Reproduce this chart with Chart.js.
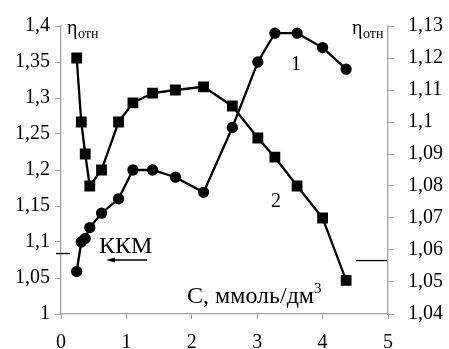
<!doctype html>
<html lang="ru">
  <head>
    <meta charset="utf-8">
    <script src="https://cdn.jsdelivr.net/npm/chart.js"></script>
    <style>
      html, body { margin: 0; padding: 0; background: #fff; }
      #wrap { width: 449px; height: 349px; }
    </style>
  </head>
  <body>
    <div id="wrap"><canvas id="myChart"></canvas></div>
    <script>
      // concentration, mmol/dm3 (shared by both curves)
      const conc = [0.24, 0.31, 0.37, 0.44, 0.62, 0.88, 1.1, 1.4, 1.75, 2.18, 2.62, 3.01, 3.27, 3.61, 4.0, 4.36];
      // curve 1 (circles, left axis)
      const eta1 = [1.059, 1.10, 1.105, 1.12, 1.14, 1.16, 1.20, 1.20, 1.19, 1.169, 1.259, 1.35, 1.39, 1.39, 1.37, 1.34];
      // curve 2 (squares, right axis)
      const eta2 = [1.12, 1.10, 1.09, 1.08, 1.085, 1.10, 1.106, 1.109, 1.11, 1.111, 1.105, 1.095, 1.089, 1.08, 1.07, 1.0505];
      // cmc markers on each axis
      const kkmLeft = 1.084;
      const kkmRight = 1.0567;

      const serif = '"Liberation Serif", "DejaVu Serif", serif';
      const axisGray = '#a0a0a0';

      function fmt(v) {
        return Number(v.toFixed(2)).toString().replace('.', ',');
      }

      function toPoints(xs, ys) {
        const pts = [];
        for (let i = 0; i < xs.length; i++) {
          pts.push({ x: xs[i], y: ys[i] });
        }
        return pts;
      }

      const labelsPlugin = {
        id: 'labels',
        afterDatasetsDraw(chart) {
          const ctx = chart.ctx;
          const y = chart.scales.y;
          const y2 = chart.scales.y2;
          ctx.save();
          ctx.fillStyle = '#000';
          ctx.strokeStyle = '#000';
          ctx.textBaseline = 'alphabetic';

          // eta_rel titles
          function eta(px) {
            ctx.font = '20px ' + serif;
            ctx.textAlign = 'left';
            ctx.fillText('η', px, 34);
            ctx.font = '14px ' + serif;
            ctx.fillText('отн', px + 11, 38);
          }
          eta(67);
          eta(352);

          // curve numbers
          ctx.font = '20px ' + serif;
          ctx.textAlign = 'center';
          ctx.fillText('1', 296, 70);
          ctx.fillText('2', 276, 207);

          // KKM label + arrow
          ctx.font = '24px ' + serif;
          ctx.textAlign = 'left';
          ctx.fillText('ККМ', 99, 253);
          ctx.lineWidth = 1.3;
          ctx.beginPath();
          ctx.moveTo(147, 260);
          ctx.lineTo(110, 260);
          ctx.stroke();
          ctx.beginPath();
          ctx.moveTo(106, 260);
          ctx.lineTo(115, 257.5);
          ctx.lineTo(115, 262.5);
          ctx.closePath();
          ctx.fill();

          // KKM marks at the axes
          const yl = y.getPixelForValue(kkmLeft);
          ctx.beginPath();
          ctx.moveTo(56, yl);
          ctx.lineTo(70, yl);
          ctx.stroke();
          const yr = y2.getPixelForValue(kkmRight);
          ctx.beginPath();
          ctx.moveTo(356, yr);
          ctx.lineTo(387, yr);
          ctx.stroke();

          // x axis title
          ctx.font = '24px ' + serif;
          ctx.textAlign = 'left';
          const t = 'C, ммоль/дм';
          ctx.fillText(t, 187, 303);
          const w = ctx.measureText(t).width;
          ctx.font = '15px ' + serif;
          ctx.fillText('3', 187 + w, 293);
          ctx.restore();
        }
      };

      const canvas = document.getElementById('myChart');
      const chart = new Chart(canvas, {
        type: 'line',
        data: {
          datasets: [
            {
              label: '1',
              data: toPoints(conc, eta1),
              yAxisID: 'y',
              borderColor: '#000',
              backgroundColor: '#000',
              borderWidth: 2.3,
              pointStyle: 'circle',
              pointRadius: 4.5,
              pointHoverRadius: 4.5,
              tension: 0
            },
            {
              label: '2',
              data: toPoints(conc, eta2),
              yAxisID: 'y2',
              borderColor: '#000',
              backgroundColor: '#000',
              borderWidth: 2.3,
              pointStyle: 'rect',
              pointRadius: 6,
              pointHoverRadius: 6,
              tension: 0
            }
          ]
        },
        options: {
          responsive: true,
          maintainAspectRatio: false,
          animation: false,
          events: [],
          layout: {
            padding: { top: 24, left: 0, right: 0, bottom: 0 }
          },
          plugins: {
            legend: { display: false },
            title: { display: false },
            tooltip: { enabled: false }
          },
          scales: {
            x: {
              type: 'linear',
              min: 0,
              max: 5,
              ticks: {
                stepSize: 1,
                color: '#000',
                padding: 12,
                font: { family: serif, size: 20 }
              },
              grid: { drawOnChartArea: false, tickLength: 5, color: axisGray },
              border: { color: axisGray, width: 1.3 },
              afterFit(scale) { scale.height = 35; }
            },
            y: {
              position: 'left',
              min: 1,
              max: 1.4,
              ticks: {
                stepSize: 0.05,
                color: '#000',
                padding: 5,
                font: { family: serif, size: 20 },
                callback: (v) => fmt(v)
              },
              grid: { drawOnChartArea: false, tickLength: 6, color: axisGray },
              border: { color: axisGray, width: 1.3 },
              afterFit(scale) { scale.width = 61; }
            },
            y2: {
              position: 'right',
              min: 1.04,
              max: 1.13,
              ticks: {
                stepSize: 0.01,
                color: '#000',
                padding: 14,
                font: { family: serif, size: 20 },
                callback: (v) => fmt(v)
              },
              grid: { drawOnChartArea: false, tickLength: 6, color: axisGray },
              border: { color: axisGray, width: 1.3 },
              afterFit(scale) { scale.width = 61; }
            }
          }
        },
        plugins: [labelsPlugin]
      });
    </script>
  </body>
</html>
